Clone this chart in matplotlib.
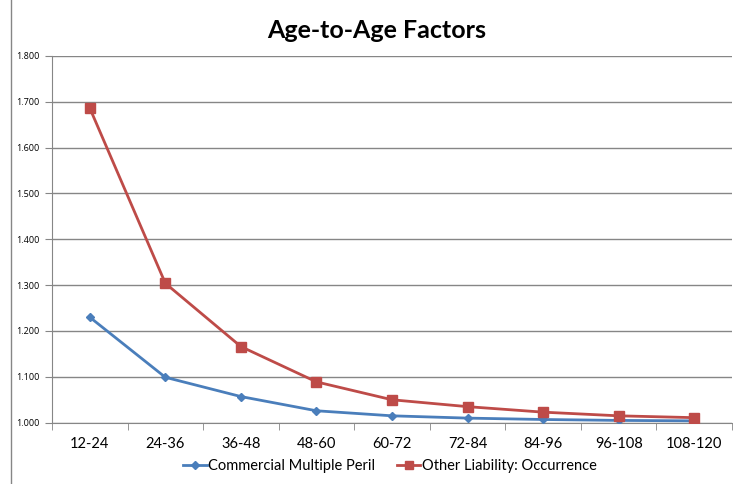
import matplotlib
matplotlib.use("Agg")
import matplotlib.pyplot as plt
from matplotlib.lines import Line2D
from matplotlib.ticker import FixedLocator, FuncFormatter

categories = ["12-24", "24-36", "36-48", "48-60", "60-72", "72-84", "84-96", "96-108", "108-120"]
cmp_values = [1.230, 1.099, 1.057, 1.026, 1.015, 1.010, 1.007, 1.005, 1.004]
ol_values = [1.686, 1.304, 1.166, 1.089, 1.050, 1.035, 1.023, 1.015, 1.011]
y_ticks = [1.0, 1.1, 1.2, 1.3, 1.4, 1.5, 1.6, 1.7, 1.8]

plt.rcParams['font.family'] = ['Lato', 'DejaVu Sans']

fig = plt.figure(figsize=(7.33, 4.84), dpi=100)
ax = fig.add_axes([52/733, 1-422.7/484, (732-52)/733, (422.7-55.8)/484])

x = list(range(len(categories)))
ax.plot(x, cmp_values, color="#4A7EBB", lw=2, marker="D", ms=4.5,
        markerfacecolor="#4A7EBB", markeredgecolor="#4A7EBB", label="Commercial Multiple Peril", zorder=3)
ax.plot(x, ol_values, color="#BE4B48", lw=2, marker="s", ms=6.5,
        markerfacecolor="#BE4B48", markeredgecolor="#BE4B48", label="Other Liability: Occurrence", zorder=4)

ax.set_xlim(-0.5, len(categories) - 0.5)
ax.set_ylim(1.0, 1.8)
ax.yaxis.set_major_locator(FixedLocator(y_ticks))
ax.yaxis.set_major_formatter(FuncFormatter(lambda v, p: f"{v:.3f}"))
for lbl in ax.get_yticklabels():
    lbl.set_fontfamily(['Open Sans', 'DejaVu Sans'])
ax.set_xticks(x)
ax.set_xticklabels(categories, fontsize=10.5)
ax.xaxis.set_minor_locator(FixedLocator([i + 0.5 for i in range(-1, len(categories))]))
ax.tick_params(axis='x', which='major', length=0, pad=10)
ax.tick_params(axis='x', which='minor', length=5, color="#868686", direction='out')
ax.tick_params(axis='y', labelsize=6.5, length=5, color="#868686", direction='out', pad=4)
for lbl in ax.get_yticklabels():
    lbl.set_fontfamily(['Open Sans', 'DejaVu Sans'])

ax.grid(axis='y', color="#868686", lw=1)
ax.set_axisbelow(True)
for s in ['top', 'right']:
    ax.spines[s].set_visible(False)
ax.spines['left'].set_color("#868686")
ax.spines['bottom'].set_color("#868686")

fig.text(377/733, 1-30/484, "Age-to-Age Factors", ha='center', va='center',
         fontsize=18, fontweight='bold')

leg = fig.legend(loc='center', bbox_to_anchor=(390/733, 1-466/484), ncol=2, frameon=False,
                 fontsize=10.5, handlelength=1.6, handletextpad=0.1, columnspacing=1.5,
                 markerscale=0.85)

fig.add_artist(Line2D([11/733, 11/733], [0, 1], color="#868686", lw=1, transform=fig.transFigure))

fig.savefig("out.png", dpi=100)
